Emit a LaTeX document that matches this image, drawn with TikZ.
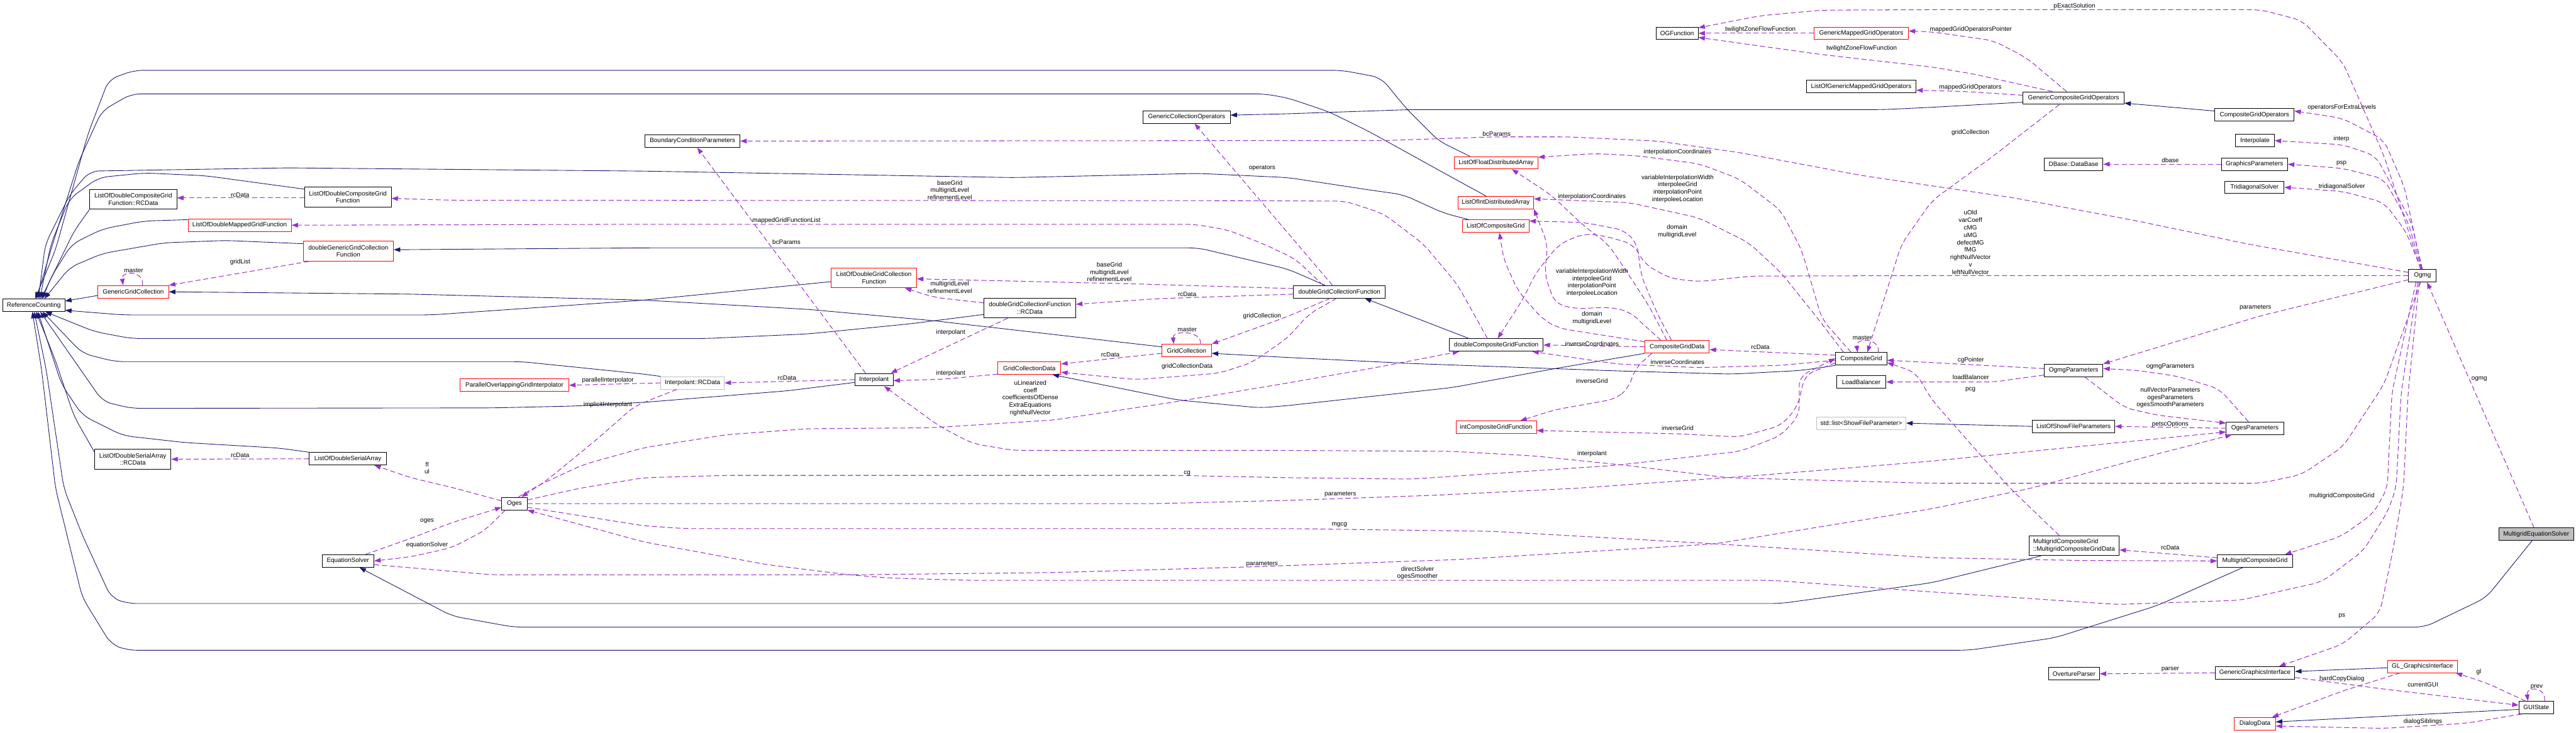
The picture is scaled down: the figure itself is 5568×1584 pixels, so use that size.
\documentclass[tikz,border=0pt]{standalone}
\usepackage{fontspec}
\newfontfamily\doxfont{Liberation Sans}
\usetikzlibrary{arrows.meta}
\definecolor{inhcol}{HTML}{191970}
\definecolor{usecol}{HTML}{9A32CD}
\definecolor{redbox}{HTML}{FF0000}
\definecolor{greybox}{HTML}{BFBFBF}

\begin{document}
\begin{tikzpicture}[
    x=1pt, y=-1pt,
    font=\doxfont\fontsize{13.5}{16}\selectfont,
    cls/.style={draw=black, fill=white, line width=1.3pt, inner sep=0pt,
        minimum height=27pt, align=center},
    clsr/.style={cls, draw=redbox},
    clsg/.style={cls, draw=greybox},
    lbl/.style={inner sep=0pt, align=center},
    inh/.style={draw=inhcol, line width=1.2pt, rounded corners=20pt,
        -{Triangle[length=14pt,width=10pt]}},
    use/.style={draw=usecol, line width=1.4pt, dash pattern=on 11pt off 6pt,
        rounded corners=20pt, -{Triangle[length=14pt,width=10pt]}}
]
\fill[white] (0,0) rectangle (5568,1584);
\useasboundingbox (0,0) rectangle (5568,1584);

% classes, left part
\node[cls, minimum width=134pt] (refcnt) at (73,660) {ReferenceCounting};
\node[cls, minimum width=188pt, minimum height=43pt] (lodcgfrc) at (288,431) {ListOfDoubleCompositeGrid\\Function::RCData};
\node[cls, minimum width=187pt, minimum height=43pt] (lodcgf) at (752,426) {ListOfDoubleCompositeGrid\\Function};
\node[clsr, minimum width=223pt] (lodmgf) at (518,487) {ListOfDoubleMappedGridFunction};
\node[clsr, minimum width=195pt, minimum height=43pt] (dggcf) at (753,543) {doubleGenericGridCollection\\Function};
\node[clsr, minimum width=153pt] (ggc) at (288,631) {GenericGridCollection};
\node[cls, minimum width=165pt, minimum height=43pt] (lodsarc) at (287,993) {ListOfDoubleSerialArray\\::RCData};
\node[cls, minimum width=167pt] (lodsa) at (752,992) {ListOfDoubleSerialArray};
\node[clsr, minimum width=235pt] (pogi) at (1112,833) {ParallelOverlappingGridInterpolator};
\node[cls, minimum width=55pt] (oges) at (1112,1089) {Oges};
\node[cls, minimum width=112pt] (eqs) at (752,1213) {EquationSolver};
\node[cls, minimum width=205pt] (bcp) at (1497,305) {BoundaryConditionParameters};
\node[clsg, minimum width=137pt] (intplrc) at (1497,828) {Interpolant::RCData};
\node[clsr, minimum width=184pt, minimum height=43pt] (lodgcf) at (1889,601) {ListOfDoubleGridCollection\\Function};
\node[cls, minimum width=83pt] (intpl) at (1889,821) {Interpolant};
\node[cls, minimum width=198pt, minimum height=43pt] (dgcfrc) at (2226,666) {doubleGridCollectionFunction\\::RCData};
\node[clsr, minimum width=136pt] (gcd) at (2225,796) {GridCollectionData};
\node[cls, minimum width=188pt] (gco) at (2565,253) {GenericCollectionOperators};
\node[clsr, minimum width=107pt] (gc) at (2565,758) {GridCollection};
\node[cls, minimum width=198pt] (dgcf) at (2895,631) {doubleGridCollectionFunction};

% classes, middle part
\node[clsr, minimum width=180pt] (lofda) at (3234,352) {ListOfFloatDistributedArray};
\node[clsr, minimum width=164pt] (loida) at (3233,438) {ListOfIntDistributedArray};
\node[clsr, minimum width=144pt] (locg) at (3233,489) {ListOfCompositeGrid};
\node[cls, minimum width=203pt] (dcgf) at (3234,746) {doubleCompositeGridFunction};
\node[clsr, minimum width=174pt] (icgf) at (3234,924) {intCompositeGridFunction};
\node[cls, minimum width=91pt] (ogf) at (3625,72) {OGFunction};
\node[clsr, minimum width=139pt] (cgd) at (3625,750) {CompositeGridData};
\node[clsr, minimum width=204pt] (gmgo) at (4023,72) {GenericMappedGridOperators};
\node[cls, minimum width=237pt] (lgmgo) at (4023,187) {ListOfGenericMappedGridOperators};
\node[cls, minimum width=111pt] (cg) at (4023,776) {CompositeGrid};
\node[cls, minimum width=107pt] (lb) at (4023,826) {LoadBalancer};
\node[clsg, minimum width=193pt] (stdlist) at (4023,915) {std::list<ShowFileParameter>};

% classes, right part
\node[cls, minimum width=218pt] (gcgo) at (4482,212) {GenericCompositeGridOperators};
\node[cls, minimum width=127pt] (dbase) at (4482,355) {DBase::DataBase};
\node[cls, minimum width=127pt] (ogmgp) at (4482,801) {OgmgParameters};
\node[cls, minimum width=178pt] (losfp) at (4482,922) {ListOfShowFileParameters};
\node[cls, minimum width=195pt, minimum height=43pt, align=left] (mcgd) at (4483,1180) {MultigridCompositeGrid\\::MultigridCompositeGridData};
\node[cls, minimum width=110pt] (op) at (4483,1457) {OvertureParser};
\node[cls, minimum width=171pt] (cgo) at (4873,248) {CompositeGridOperators};
\node[cls, minimum width=84pt] (itp) at (4874,304) {Interpolate};
\node[cls, minimum width=143pt] (gp) at (4873,355) {GraphicsParameters};
\node[cls, minimum width=128pt] (tds) at (4873,405) {TridiagonalSolver};
\node[cls, minimum width=124pt] (ogesp) at (4874,926) {OgesParameters};
\node[cls, minimum width=162pt] (mcg) at (4874,1213) {MultigridCompositeGrid};
\node[cls, minimum width=172pt] (ggi) at (4874,1455) {GenericGraphicsInterface};
\node[clsr, minimum width=89pt] (dd) at (4874,1565) {DialogData};
\node[cls, minimum width=60pt] (ogmg) at (5236,596) {Ogmg};
\node[clsr, minimum width=151pt] (glgi) at (5236,1441) {GL\_GraphicsInterface};
\node[cls, fill=greybox, minimum width=162pt] (mes) at (5482,1155) {MultigridEquationSolver};
\node[cls, minimum width=75pt] (gui) at (5482,1530) {GUIState};

% inheritance
\draw[inh] ([xshift=-57pt]lofda.north) -- (3110,305) -- (3040,235) -- (2985,168) -- (2900,152) -- (290,152) -- (235,172) -- (190,290) -- (120,540) -- ([xshift=3pt]refcnt.north);
\draw[inh] ([xshift=-21pt]loida.north) -- (3139,384) -- (2962,286) -- (2873,242) -- (2784,212) -- (2733,203) -- (284,203) -- (220,240) -- (170,350) -- (110,540) -- ([xshift=6pt]refcnt.north);
\draw[inh] ([xshift=-58pt]locg.north) -- (3121,461) -- (3033,421) -- (2962,411) -- (2784,384) -- (2590,375) -- (2191,384) -- (1392,370) -- (621,363) -- (194,370) -- (151,421) -- (98,528) -- ([xshift=10pt]refcnt.north);
\draw[inh] ([yshift=17pt]lodcgf.west) -- (444,380) -- (311,374) -- (213,384) -- (150,430) -- (110,528) -- ([xshift=13pt]refcnt.north);
\draw[inh] (lodcgfrc.south west) -- (160,500) -- ([xshift=16pt]refcnt.north);
\draw[inh] ([yshift=12pt]lodmgf.west) -- (311,478) -- (222,495) -- (155,528) -- (110,600) -- ([xshift=19pt]refcnt.north);
\draw[inh] ([yshift=16pt]dggcf.west) -- (488,520) -- (355,525) -- (222,548) -- (151,578) -- ([xshift=23pt]refcnt.north);
\draw[inh] ([yshift=-8pt]ggc.west) -- ([yshift=9pt]refcnt.east);
\draw[inh] ([yshift=-8pt]lodgcf.west) -- (1392,649) -- (932,681) -- (266,681) -- ([yshift=-11pt]refcnt.east);
\draw[inh] ([yshift=8pt]gc.west) -- (2013,693) -- (1747,669) -- (1392,649) -- (888,636) -- (ggc.east);
\draw[inh] ([yshift=-14pt]dgcfrc.west) -- (1969,700) -- (1747,722) -- (1525,732) -- (284,732) -- (204,717) -- ([xshift=25pt]refcnt.south);
\draw[inh] (intplrc.north west) -- (1392,809) -- (1127,782) -- (249,782) -- (178,764) -- ([xshift=19pt]refcnt.south);
\draw[inh] ([yshift=-6pt]intpl.west) -- (1703,845) -- (1392,870) -- (1243,878) -- (1065,882) -- (284,883) -- (222,868) -- ([xshift=14pt]refcnt.south);
\draw[inh] ([yshift=16pt]lodsarc.west) -- (160,900) -- (120,780) -- ([xshift=5pt]refcnt.south);
\draw[inh] (lodsa.north west) -- (604,969) -- (400,957) -- (266,942) -- (178,898) -- (133,831) -- ([xshift=9pt]refcnt.south);
\draw[inh] ([xshift=-72pt]mcgd.south) -- (4265,1238) -- (4176,1260) -- (3849,1305) -- (275,1305) -- (240,1292) -- (178,1157) -- (138,1056) -- (100,800) -- ([xshift=1pt]refcnt.south);
\draw[inh] ([xshift=-26pt]mcg.south) -- (4664,1309) -- (4442,1379) -- (4256,1406) -- (275,1406) -- (240,1393) -- (178,1292) -- (120,1056) -- (90,800) -- ([xshift=-3pt]refcnt.south);
\draw[inh] ([xshift=-9pt]mes.south) -- (5374,1292) -- (5241,1356) -- (1110,1356) -- (977,1332) -- ([xshift=25pt]eqs.south);
\draw[inh] ([xshift=-31pt]dgcf.north) -- (2784,582) -- (2590,536) -- (1392,536) -- ([yshift=3pt]dggcf.east);
\draw[inh] ([xshift=-59pt]dcgf.north) -- ([xshift=55pt]dgcf.south);
\draw[inh] ([yshift=-9pt]gcgo.west) -- (4176,232) -- (4071,237) -- (3050,237) -- (2784,246) -- ([yshift=4pt]gco.east);
\draw[inh] ([yshift=8pt]cgo.west) -- ([yshift=-11pt]gcgo.east);
\draw[inh] (cg.south west) -- (3894,801) -- (3743,809) -- (3494,802) -- (3050,786) -- (2784,773) -- ([yshift=-6pt]gc.east);
\draw[inh] (cgd.south west) -- (3361,797) -- (3139,838) -- (2784,877) -- (2724,882) -- (2546,865) -- ([xshift=50pt]gcd.south);
\draw[inh] (losfp.west) -- (stdlist.east);
\draw[inh] ([yshift=-3pt]glgi.west) -- ([yshift=3pt]ggi.east);
\draw[inh] ([yshift=-4pt]gui.west) -- ([yshift=4pt]dd.east);

% usage, left part
\draw[use] ([yshift=-2pt]lodcgf.west) -- ([yshift=3pt]lodcgfrc.east);
\node[lbl] (l-rc1) at (519,421) {rcData};
\draw[use] ([xshift=-19pt]dcgf.north) -- (3150,615) -- (3077,528) -- (2990,462) -- (2908,435) -- (2700,434) -- (980,433) -- ([yshift=-3pt]lodcgf.east);
\node[lbl] (l-bg1) at (2053,411) {baseGrid\\multigridLevel\\refinementLevel};
\draw[use] ([xshift=-35pt]dgcf.north) -- (2800,560) -- (2732,528) -- (2653,497) -- (2580,485) -- (1400,485) -- (lodmgf.east);
\node[lbl] (l-mgfl) at (1700,477) {mappedGridFunctionList};
\draw[use] ([xshift=-85pt]dggcf.south) -- (ggc.north east);
\node[lbl] (l-glist) at (519,567) {gridList};
\draw[use] ([xshift=20pt]ggc.north) .. controls +(4,-32) and +(-4,-32) .. ([xshift=-22pt]ggc.north);
\node[lbl] (l-mst1) at (289,585) {master};
\draw[use] ([xshift=-18pt]intpl.north) -- ([xshift=10pt]bcp.south);
\node[lbl] (l-bc1) at (1700,523) {bcParams};
\draw[use] ([xshift=-15pt]dgcf.north) -- ([xshift=17pt]gco.south);
\node[lbl] (l-ops) at (2728,364) {operators};
\draw[use] ([yshift=7pt]dgcf.west) -- (2457,614) -- ([yshift=-2pt]lodgcf.east);
\node[lbl] (l-bg2) at (2398,588) {baseGrid\\multigridLevel\\refinementLevel};
\draw[use] ([yshift=-5pt]dgcf.west) -- (2500,646) -- ([yshift=8pt]dgcfrc.east);
\node[lbl] (l-rc2) at (2566,637) {rcData};
\draw[use] ([yshift=11pt]dgcfrc.west) -- (2020,643) -- ([xshift=67pt]lodgcf.south);
\node[lbl] (l-mgl) at (2053,621) {multigridLevel\\refinementLevel};
\draw[use] ([xshift=-48pt]dgcfrc.south) -- ([xshift=-6pt]intpl.north east);
\node[lbl] (l-ip1) at (2055,719) {interpolant};
\draw[use] ([yshift=-13pt]gcd.west) -- (2040,820) -- ([yshift=-2pt]intpl.east);
\node[lbl] (l-ip2) at (2055,807) {interpolant};
\draw[use] (intpl.west) -- (intplrc.east);
\node[lbl] (l-rc3) at (1701,817) {rcData};
\draw[use] (intplrc.west) -- (pogi.east);
\node[lbl] (l-pint) at (1314,823) {parallelInterpolator};
\draw[use] ([xshift=-34pt]intplrc.south) -- (1372,878) -- (1290,950) -- (1180,1040) -- ([xshift=15pt]oges.north);
\node[lbl] (l-iint) at (1314,875) {implicitInterpolant};
\draw[use] ([yshift=6pt]oges.west) -- (985,1056) -- (888,1033) -- ([xshift=-27pt]lodsa.south east);
\node[lbl] (l-flul) at (923,1012) {fl\\ul};
\draw[use] (lodsa.west) -- (lodsarc.east);
\node[lbl] (l-rc4) at (519,985) {rcData};
\draw[use] ([xshift=-20pt]oges.south) -- (1048,1147) -- (977,1184) -- (888,1204) -- (eqs.east);
\node[lbl] (l-eqs) at (923,1179) {equationSolver};
\draw[use] ([xshift=38pt]eqs.north) -- (888,1164) -- (977,1130) -- ([yshift=-8pt]oges.west);
\node[lbl] (l-oges) at (923,1127) {oges};
\draw[use] ([yshift=-6pt]gc.west) -- ([yshift=9pt]gcd.east);
\node[lbl] (l-rc5) at (2400,767) {rcData};
\draw[use] ([xshift=30pt]gc.north) .. controls +(3,-30) and +(-3,-30) .. ([xshift=-28pt]gc.north);
\node[lbl] (l-mst2) at (2566,713) {master};
\draw[use] ([xshift=-20pt]dgcf.south) -- (2784,684) -- (2724,706) -- (gc.north east);
\node[lbl] (l-gcol1) at (2728,684) {gridCollection};
\draw[use] ([xshift=-6pt]dgcf.south) -- (2828,680) -- (2784,730) -- (2706,784) -- (2635,807) -- (2457,821) -- ([yshift=-9pt]gcd.east);
\node[lbl] (l-gcdat) at (2566,792) {gridCollectionData};
\draw[use] ([xshift=8pt]oges.north) -- (1163,1050) -- (1260,1005) -- (1392,968) -- (1570,940) -- (1747,927) -- (2013,925) -- (2280,908) -- (2546,868) -- (2784,828) -- (2962,797) -- ([xshift=-80pt]dcgf.south);
\node[lbl] (l-ulin) at (2227,861) {uLinearized\\coeff\\coefficientsOfDense\\ExtraEquations\\rightNullVector};
\draw[use] ([yshift=8pt]oges.east) -- (1252,1056) -- (1392,1033) -- (1570,1028) -- (2546,1028) -- (2784,1033) -- (3050,1036) -- (3494,1006) -- (3761,976) -- (3849,942) -- (3889,898) -- (3889,814) -- ([yshift=1pt]cg.west);
\node[lbl] (l-cg) at (2566,1023) {cg};

% usage, middle part
\draw[use] ([yshift=-9pt]cg.west) -- (3902,810) -- (3885,880) -- (3850,920) -- (3760,945) -- (3626,938) -- ([yshift=-7pt]icgf.east);
\node[lbl] (l-ig1) at (3626,925) {inverseGrid};
\draw[use] ([xshift=-55pt]cgd.south) -- (3534,797) -- (3521,838) -- (3494,862) -- (3441,872) -- (3361,886) -- ([xshift=52pt]icgf.north);
\node[lbl] (l-ig2) at (3441,824) {inverseGrid};
\draw[use] (cgd.west) -- (dcgf.east);
\node[lbl] (l-ic1) at (3441,743) {inverseCoordinates};
\draw[use] ([yshift=-3pt]cg.west) -- (3850,790) -- (3672,795) -- (3494,787) -- ([xshift=78pt]dcgf.south);
\node[lbl] (l-ic2) at (3626,783) {inverseCoordinates};
\draw[use] ([yshift=8pt]cg.west) -- ([yshift=-6pt]cgd.east);
\node[lbl] (l-rc6) at (3805,750) {rcData};
\draw[use] ([xshift=37pt]cg.north) .. controls +(4,-32) and +(-4,-32) .. ([xshift=-8pt]cg.north);
\node[lbl] (l-mst3) at (4025,731) {master};
\draw[use] ([xshift=-22pt]cg.north) -- (3938,690) -- (3894,540) -- (3849,455) -- (3760,387) -- (3672,354) -- (3539,337) -- (3450,332) -- ([yshift=12pt]lofda.east);
\node[lbl] (l-icoo1) at (3626,329) {interpolationCoordinates};
\draw[use] ([xshift=-38pt]cg.north) -- (3930,690) -- (3850,590) -- (3780,525) -- (3672,471) -- (3521,438) -- ([yshift=8pt]loida.east);
\node[lbl] (l-viw1) at (3626,408) {variableInterpolationWidth\\interpoleeGrid\\interpolationPoint\\interpoleeLocation};
\draw[use] ([xshift=-12pt]cgd.north) -- (3583,680) -- (3547,595) -- (3539,528) -- (3512,498) -- (3423,481) -- ([yshift=11pt]locg.east);
\node[lbl] (l-dom1) at (3625,500) {domain\\multigridLevel};
\draw[use] ([xshift=-22pt]cgd.north) -- (3565,663) -- (3521,595) -- (3476,528) -- (3423,488) -- (3352,421) -- ([xshift=34pt]lofda.south);
\node[lbl] (l-icoo2) at (3441,425) {interpolationCoordinates};
\draw[use] ([xshift=-35pt]cgd.north) -- (3521,673) -- (3476,664) -- (3405,668) -- (3361,656) -- (3339,595) -- (3345,528) -- (loida.south east);
\node[lbl] (l-viw2) at (3441,611) {variableInterpolationWidth\\interpoleeGrid\\interpolationPoint\\interpoleeLocation};
\draw[use] ([yshift=11pt]cgd.west) -- (3370,710) -- (3334,690) -- (3281,629) -- (3250,560) -- ([xshift=8pt]locg.south);
\node[lbl] (l-dom2) at (3441,688) {domain\\multigridLevel};
\draw[use] (ogmg.west) -- (4176,596) -- (3787,597) -- (3672,609) -- (3610,602) -- (3556,572) -- (3530,528) -- (3468,510) -- (3423,505) -- (3370,528) -- (3320,590) -- (3290,650) -- ([xshift=3pt]dcgf.north);
\node[lbl] (l-uold) at (4259,524) {uOld\\varCoeff\\cMG\\uMG\\defectMG\\fMG\\rightNullVector\\v\\leftNullVector};
\draw[use] ([xshift=-4pt]ogmg.south) -- (5153,831) -- (5064,966) -- (4975,1026) -- (4886,1045) -- (4176,1045) -- (3734,1033) -- (3512,1006) -- (3317,986) -- (3139,976) -- (2784,974) -- (2191,974) -- (2102,959) -- (2031,922) -- ([xshift=22pt]intpl.south);
\node[lbl] (l-ip3) at (3441,981) {interpolant};
\draw[use] ([yshift=7pt]ogmg.west) -- (4860,528) -- (4620,478) -- (4354,428) -- (4027,380) -- (3760,330) -- (3583,305) -- (3388,296) -- (3228,296) -- (2988,304) -- (2700,304) -- (bcp.east);
\node[lbl] (l-bc2) at (3235,289) {bcParams};

% usage, upper right
\draw[use] (gmgo.west) -- (ogf.east);
\node[lbl] (l-tz1) at (3805,64) {twilightZoneFlowFunction};
\draw[use] ([xshift=-46pt]gcgo.north) -- (4265,160) -- (4176,145) -- (3938,118) -- ([yshift=-9pt]ogf.east);
\node[lbl] (l-tz2) at (4024,105) {twilightZoneFlowFunction};
\draw[use] ([xshift=-4pt]ogmg.north) -- (5215,528) -- (5153,337) -- (5064,135) -- (4975,44) -- (4886,21) -- (4176,21) -- (3938,22) -- (3805,34) -- ([yshift=12pt]ogf.east);
\node[lbl] (l-pex) at (4484,13) {pExactSolution};
\draw[use] ([xshift=-15pt]gcgo.north) -- (4380,125) -- (4309,88) -- (4176,69) -- ([yshift=5pt]gmgo.east);
\node[lbl] (l-mgop) at (4260,64) {mappedGridOperatorsPointer};
\draw[use] ([yshift=6pt]gcgo.west) -- (4250,198) -- ([yshift=-8pt]lgmgo.east);
\node[lbl] (l-mgo) at (4259,189) {mappedGridOperators};
\draw[use] ([xshift=-31pt]gcgo.south) -- (4309,337) -- (4176,434) -- (4110,528) -- ([xshift=13pt]cg.north);
\node[lbl] (l-gcol2) at (4259,287) {gridCollection};
\draw[use] (ogmg.north) -- (5223,528) -- (5197,404) -- (5153,303) -- (5064,256) -- ([yshift=8pt]cgo.east);
\node[lbl] (l-oxl) at (5062,233) {operatorsForExtraLevels};
\draw[use] ([xshift=-1pt]ogmg.north) -- (5212,480) -- (5135,337) -- (5064,313) -- (itp.east);
\node[lbl] (l-intp) at (5061,301) {interp};
\draw[use] ([xshift=-2pt]ogmg.north) -- (5205,480) -- (5153,387) -- (5064,364) -- (gp.east);
\node[lbl] (l-psp) at (5061,353) {psp};
\draw[use] ([xshift=-3pt]ogmg.north) -- (5200,500) -- (5153,438) -- (5064,414) -- (tds.east);
\node[lbl] (l-tds) at (5062,403) {tridiagonalSolver};
\draw[use] (gp.west) -- (dbase.east);
\node[lbl] (l-dbase) at (4691,347) {dbase};

% usage, lower right
\draw[use] ([yshift=4pt]ogmgp.west) -- (4250,788) -- ([yshift=-3pt]cg.east);
\node[lbl] (l-cgp) at (4260,779) {cgPointer};
\draw[use] ([yshift=-10pt]ogmgp.west) -- (4309,826) -- (lb.east);
\node[lbl] (l-lb) at (4260,816) {loadBalancer};
\draw[use] ([xshift=-32pt]mcgd.north) -- (4345,1056) -- (4265,966) -- (4176,865) -- (4140,805) -- ([yshift=-8pt]cg.east);
\node[lbl] (l-pcg) at (4259,843) {pcg};
\draw[use] ([yshift=-9pt]ogmg.west) -- (4886,683) -- (ogmgp.north east);
\node[lbl] (l-par1) at (4875,665) {parameters};
\draw[use] ([xshift=-14pt]ogesp.north) -- (4797,841) -- (4709,814) -- (4620,801) -- ([yshift=4pt]ogmgp.east);
\node[lbl] (l-ogmgp) at (4691,793) {ogmgParameters};
\draw[use] ([xshift=24pt]ogmgp.south) -- (4593,882) -- (4664,898) -- ([yshift=11pt]ogesp.west);
\node[lbl] (l-nvp) at (4691,860) {nullVectorParameters\\ogesParameters\\ogesSmoothParameters};
\draw[use] (ogesp.west) -- (losfp.east);
\node[lbl] (l-petsc) at (4691,917) {petscOptions};
\draw[use] (oges.east) -- (2500,1089) -- (2784,1082) -- (3100,1071) -- (3405,1056) -- (3800,1028) -- (4176,997) -- (4500,965) -- ([yshift=-8pt]ogesp.west);
\node[lbl] (l-par2) at (2897,1069) {parameters};
\draw[use] ([yshift=-8pt]eqs.east) -- (1065,1243) -- (1836,1243) -- (2280,1238) -- (2697,1226) -- (3150,1210) -- (3707,1176) -- (4176,1100) -- (4389,1056) -- (4650,985) -- ([xshift=-50pt]ogesp.south);
\node[lbl] (l-par3) at (2728,1220) {parameters};
\draw[use] ([yshift=-8pt]oges.east) -- (1392,1137) -- (1481,1143) -- (2784,1143) -- (3228,1149) -- (3707,1176) -- (4176,1206) -- (4500,1212) -- (mcg.west);
\node[lbl] (l-mgcg) at (2895,1135) {mgcg};
\draw[use] ([xshift=-10pt]ogmg.south) -- (5190,850) -- (5179,1056) -- (5161,1106) -- (5108,1191) -- (5019,1258) -- (4842,1298) -- (4576,1307) -- (4176,1280) -- (3832,1255) -- (2102,1255) -- (1925,1250) -- (1836,1243) -- (1658,1221) -- (1392,1172) -- (oges.south east);
\node[lbl] (l-dsol) at (3064,1239) {directSolver\\ogesSmoother};
\draw[use] ([xshift=-14pt]ogmg.south) -- (5170,850) -- (5160,1056) -- (5130,1110) -- (5060,1160) -- ([xshift=65pt]mcg.north);
\node[lbl] (l-mcg) at (5062,1072) {multigridCompositeGrid};
\draw[use] ([xshift=-7pt]ogmg.south) -- (5205,850) -- (5195,1056) -- (5172,1191) -- (5144,1325) -- (5064,1393) -- ([xshift=52pt]ggi.north);
\node[lbl] (l-ps) at (5062,1332) {ps};
\draw[use] ([xshift=-5pt]mes.north) -- ([xshift=10pt]ogmg.south);
\node[lbl] (l-ogmg) at (5359,820) {ogmg};
\draw[use] ([yshift=7pt]mcg.west) -- ([yshift=-9pt]mcgd.east);
\node[lbl] (l-rc7) at (4691,1184) {rcData};
\draw[use] (ggi.west) -- (op.east);
\node[lbl] (l-parser) at (4691,1447) {parser};
\draw[use] ([xshift=-48pt]glgi.south) -- (5064,1494) -- ([xshift=-8pt]dd.north east);
\node[lbl] (l-hcd) at (5062,1468) {hardCopyDialog};
\draw[use] ([yshift=-10pt]ggi.east) -- (5153,1490) -- ([yshift=5pt]gui.west);
\node[lbl] (l-cgui) at (5237,1480) {currentGUI};
\draw[use] ([xshift=-23pt]gui.north) -- (5375,1477) -- ([xshift=-4pt]glgi.south east);
\node[lbl] (l-gl) at (5358,1453) {gl};
\draw[use] ([xshift=18pt]gui.north) .. controls +(4,-32) and +(-4,-32) .. ([xshift=-18pt]gui.north);
\node[lbl] (l-prev) at (5483,1485) {prev};
\draw[use] ([xshift=-32pt]gui.south) -- (5330,1564) -- (5153,1575) -- ([yshift=-5pt]dd.east);
\node[lbl] (l-dsib) at (5237,1560) {dialogSiblings};
\end{tikzpicture}
\end{document}
